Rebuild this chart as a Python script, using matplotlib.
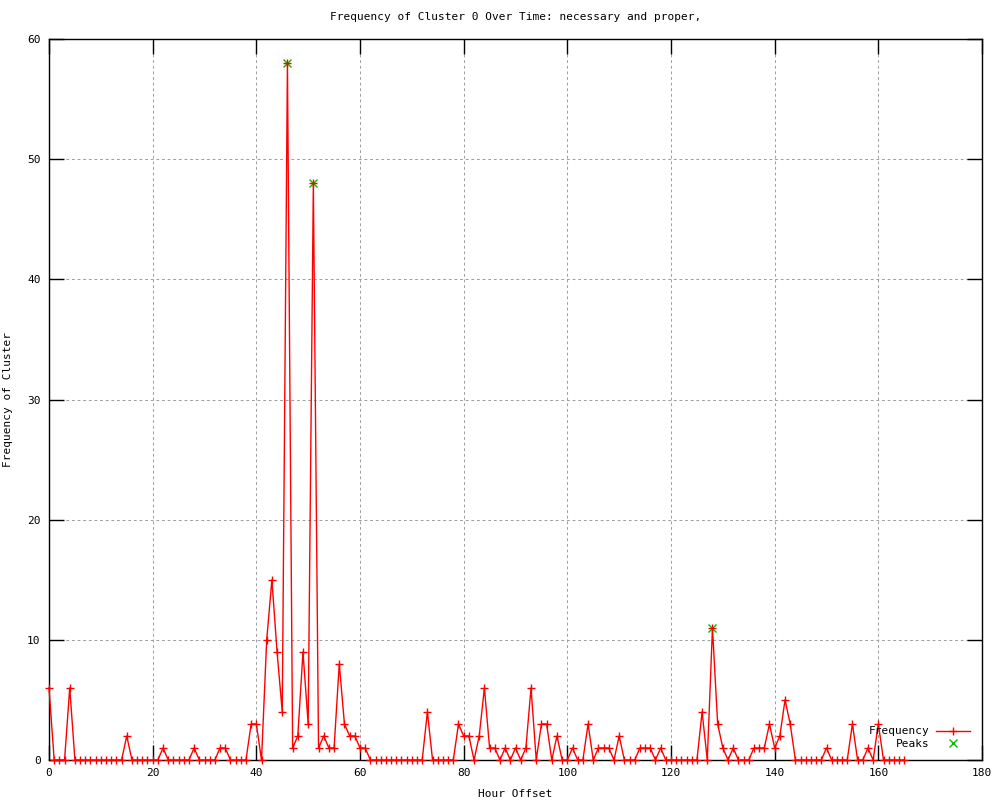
import numpy as np
import matplotlib
matplotlib.use('Agg')
import matplotlib.pyplot as plt

# data: hour offset 0..165
hours = list(range(0, 166))
freq = [6, 0, 0, 0, 6, 0, 0, 0, 0, 0,      # 0-9
        0, 0, 0, 0, 0, 2, 0, 0, 0, 0,      # 10-19
        0, 0, 1, 0, 0, 0, 0, 0, 1, 0,      # 20-29
        0, 0, 0, 1, 1, 0, 0, 0, 0, 3,      # 30-39
        3, 0, 10, 15, 9, 4, 58, 1, 2, 9,   # 40-49
        3, 48, 1, 2, 1, 1, 8, 3, 2, 2,     # 50-59
        1, 1, 0, 0, 0, 0, 0, 0, 0, 0,      # 60-69
        0, 0, 0, 4, 0, 0, 0, 0, 0, 3,      # 70-79
        2, 2, 0, 2, 6, 1, 1, 0, 1, 0,      # 80-89
        1, 0, 1, 6, 0, 3, 3, 0, 2, 0,      # 90-99
        0, 1, 0, 0, 3, 0, 1, 1, 1, 0,      # 100-109
        2, 0, 0, 0, 1, 1, 1, 0, 1, 0,      # 110-119
        0, 0, 0, 0, 0, 0, 4, 0, 11, 3,     # 120-129
        1, 0, 1, 0, 0, 0, 1, 1, 1, 3,      # 130-139
        1, 2, 5, 3, 0, 0, 0, 0, 0, 0,      # 140-149
        1, 0, 0, 0, 0, 3, 0, 0, 1, 0,      # 150-159
        3, 0, 0, 0, 0, 0]                  # 160-165

peak_hours = [46, 51, 128]
peak_vals = [58, 48, 11]

x_ticks = list(range(0, 181, 20))
y_ticks = list(range(0, 61, 10))

plt.rcParams['font.family'] = 'DejaVu Sans Mono'
plt.rcParams['font.size'] = 8

fig = plt.figure(figsize=(10, 8), dpi=100)
ax = fig.add_axes([0.049, 0.05, 0.933, 0.901])

ax.plot(hours, freq, color='red', lw=1, marker='+', ms=6, mew=1,
        clip_on=False, label='Frequency', zorder=4)
ax.plot(peak_hours, peak_vals, ls='none', color='#00c000', marker='x',
        ms=5.5, mew=1, clip_on=False, label='Peaks', zorder=3)

ax.set_xlim(0, 180)
ax.set_ylim(0, 60)
ax.set_xticks(x_ticks)
ax.set_yticks(y_ticks)
ax.grid(True, color='#a0a0a0', ls=(0, (2.7, 2.7)), lw=0.75)
ax.tick_params(direction='in', length=11, width=1, top=True, right=True,
               labelsize=8, pad=6)
for s in ax.spines.values():
    s.set_linewidth(1)

ax.set_title('Frequency of Cluster 0 Over Time: necessary and proper,',
             fontsize=8, pad=14)
ax.set_xlabel('Hour Offset', fontsize=8, labelpad=8)
ax.set_ylabel('Frequency of Cluster', fontsize=8, labelpad=10)

ax.legend(loc='lower right', markerfirst=False, frameon=False, fontsize=8,
          handlelength=3.0, handletextpad=0.6, labelspacing=0.2,
          borderaxespad=0.3, bbox_to_anchor=(0.995, 0.005))

plt.savefig('out.png')
plt.close()
